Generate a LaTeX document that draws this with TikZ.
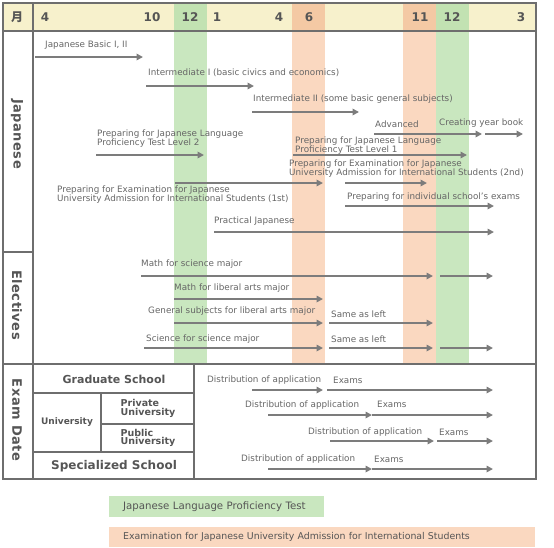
\documentclass[tikz,border=0pt]{standalone}
\usepackage{fontspec}
\setmainfont{DejaVu Sans}
\newfontfamily\jpfont{Noto Sans CJK JP}
\newfontfamily\sidefont[LetterSpace=4]{DejaVu Sans Bold}
\usepackage{xcolor}
\usetikzlibrary{arrows.meta}

\definecolor{hdr}{HTML}{F7F1CC}
\definecolor{jlptbg}{HTML}{C9E7BF}
\definecolor{jlpthd}{HTML}{C2E2B2}
\definecolor{ejubg}{HTML}{FAD8C0}
\definecolor{ejuhd}{HTML}{F4C9A4}
\definecolor{rulegray}{HTML}{6E6E6E}
\definecolor{arrgray}{HTML}{7C7C7C}
\definecolor{txtgray}{HTML}{666666}
\definecolor{headtxt}{HTML}{555555}

\begin{document}
\begin{tikzpicture}[x=1pt, y=-1pt,
  lbl/.style={anchor=west, inner sep=0pt, font=\fontsize{8.8}{9}\selectfont, text=txtgray, align=left},
  arr/.style={-{Triangle[length=6.5pt,width=6.5pt]}, line width=2.2pt, draw=arrgray},
  frame/.style={draw=rulegray, line width=1.7pt},
  month/.style={font=\fontsize{12}{12}\selectfont\bfseries, text=headtxt, inner sep=0pt},
  side/.style={font=\sidefont\fontsize{13}{13}\selectfont, text=headtxt, rotate=-90, inner sep=0pt},
  cell/.style={font=\fontsize{9.5}{9.5}\selectfont\bfseries, text=headtxt, align=left, inner sep=0pt},
  key/.style={anchor=west, inner xsep=14pt, inner ysep=0pt, align=left, text=headtxt}]
  \useasboundingbox (0,0) rectangle (554,547);

  % header and test periods
  \fill[hdr] (3,3) rectangle (536,31);
  \fill[jlptbg] (174,31) rectangle (207,364);
  \fill[jlptbg] (436,31) rectangle (469,364);
  \fill[ejubg] (292,31) rectangle (325,364);
  \fill[ejubg] (403,31) rectangle (436,364);
  \fill[jlpthd] (174,3) rectangle (207,31);
  \fill[jlpthd] (436,3) rectangle (469,31);
  \fill[ejuhd] (292,3) rectangle (325,31);
  \fill[ejuhd] (403,3) rectangle (436,31);

  % grid
  \draw[frame] (3,3) rectangle (536,479);
  \draw[frame] (3,31) -- (536,31);
  \draw[frame] (33,3) -- (33,479);
  \draw[frame] (3,252) -- (33,252);
  \draw[frame] (3,364) -- (536,364);
  \draw[frame] (194,364) -- (194,479);
  \draw[frame] (33,393) -- (194,393);
  \draw[frame] (101,393) -- (101,452);
  \draw[frame] (101,424) -- (194,424);
  \draw[frame] (33,452) -- (194,452);

  % months
  \node[month, font=\jpfont\fontsize{12}{12}\selectfont\bfseries] (mhead) at (17,17) {月};
  \foreach \m/\x [count=\i] in {4/45, 10/152, 12/190, 1/217, 4/279, 6/309, 11/420, 12/452, 3/521}
    \node[month] (mon\i) at (\x,17) {\m};

  % row titles
  \node[side] (secjp) at (17,134) {Japanese};
  \node[side] (secel) at (17,305) {Electives};
  \node[side] (secex) at (17,420) {Exam Date};

  % school table
  \node[cell, font=\fontsize{11}{11}\selectfont\bfseries] (grad) at (114,379) {Graduate School};
  \node[cell, font=\fontsize{9}{9}\selectfont\bfseries] (univ) at (67,422) {University};
  \node[cell] (priv) at (148,408.5) {Private\\[-1pt]University};
  \node[cell] (publ) at (148,438) {Public\\[-1pt]University};
  \node[cell, font=\fontsize{12}{12}\selectfont\bfseries] (spec) at (114,466) {Specialized School};

  % japanese
  \node[lbl] (basic) at (45,45) {Japanese Basic I, II};
  \node[lbl] (inter1) at (148,73) {Intermediate I (basic civics and economics)};
  \node[lbl] (inter2) at (253,99) {Intermediate II (some basic general subjects)};
  \node[lbl] (adv) at (375,124) {Advanced};
  \node[lbl] (year) at (439,123) {Creating year book};
  \node[lbl] (jlpt2) at (97,139) {Preparing for Japanese Language\\Proficiency Test Level 2};
  \node[lbl] (jlpt1) at (295,146) {Preparing for Japanese Language\\Proficiency Test Level 1};
  \node[lbl] (eju2) at (289,169) {Preparing for Examination for Japanese\\University Admission for International Students (2nd)};
  \node[lbl] (eju1) at (57,195) {Preparing for Examination for Japanese\\University Admission for International Students (1st)};
  \node[lbl] (indiv) at (347,197) {Preparing for individual school’s exams};
  \node[lbl] (pract) at (214,221) {Practical Japanese};

  % electives
  \node[lbl] (mathsc) at (141,264) {Math for science major};
  \node[lbl] (mathla) at (174,288) {Math for liberal arts major};
  \node[lbl] (gensub) at (148,311) {General subjects for liberal arts major};
  \node[lbl] (same1) at (331,314) {Same as left};
  \node[lbl] (scisc) at (146,339) {Science for science major};
  \node[lbl] (same2) at (331,339) {Same as left};

  % exam dates
  \node[lbl] (dgrad) at (207,380) {Distribution of application};
  \node[lbl] (egrad) at (333,380) {Exams};
  \node[lbl] (dpriv) at (245,405) {Distribution of application};
  \node[lbl] (epriv) at (377,404) {Exams};
  \node[lbl] (dpubl) at (308,432) {Distribution of application};
  \node[lbl] (epubl) at (439,432) {Exams};
  \node[lbl] (dspec) at (241,459) {Distribution of application};
  \node[lbl] (espec) at (374,459) {Exams};

  % periods
  \foreach \n/\xa/\xb/\y in {basic/35/143/57, inter1/146/254/86, inter2/252/359/112,
      adv/374/482/134, year/485/523/134, jlpt2/96/204/155, jlpt1/293/467/155,
      eju1/175/323/183, eju2/345/427/183, indiv/345/494/206, pract/214/494/232,
      mathsc/141/433/276, mathscb/440/493/276, mathla/174/323/299,
      gensub/174/323/323, same1/329/433/323,
      scisc/144/323/348, same2/329/433/348, same2b/440/493/348,
      dgrad/252/323/390, egrad/327/493/390, dpriv/268/372/415, epriv/372/493/415,
      dpubl/330/434/441, epubl/437/493/441, dspec/268/372/469, espec/372/493/469} {
    \coordinate (\n-s) at (\xa,\y);
    \coordinate (\n-e) at (\xb,\y);
    \draw[arr] (\n-s) -- (\n-e);
  }

  % legend
  \node[key, fill=jlptbg, minimum height=21pt, text width=187pt, font=\fontsize{10.2}{11}\selectfont] (keyjlpt) at (109,506.5) {Japanese Language Proficiency Test};
  \node[key, fill=ejubg, minimum height=20pt, text width=398pt, font=\fontsize{9.4}{10}\selectfont] (keyeju) at (109,537) {Examination for Japanese University Admission for International Students};
\end{tikzpicture}
\end{document}
